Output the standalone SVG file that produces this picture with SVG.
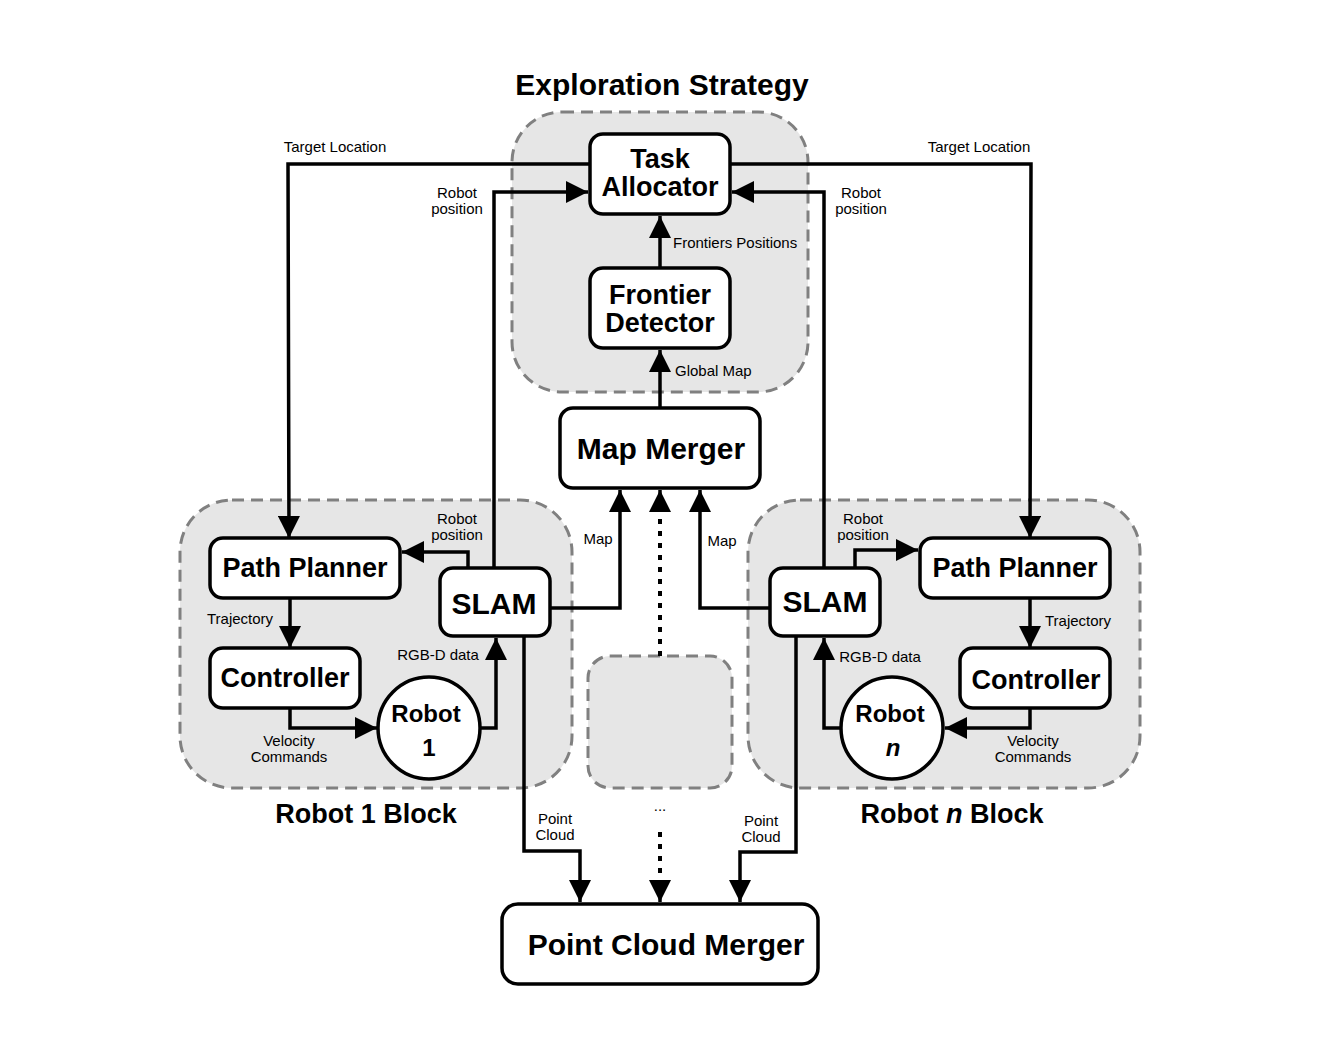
<svg xmlns="http://www.w3.org/2000/svg" width="1322" height="1037" viewBox="0 0 1322 1037">
<style>
.grp{fill:#e6e6e6;stroke:#808080;stroke-width:3;stroke-dasharray:12 7}
.node{fill:#fff;stroke:#000;stroke-width:3.5}
.t{font-family:"Liberation Sans",Arial,sans-serif;font-weight:bold;fill:#000;text-anchor:middle}
.lbl{font-family:"Liberation Sans",Arial,sans-serif;font-size:15px;fill:#000;text-anchor:middle}
.lbls{font-family:"Liberation Sans",Arial,sans-serif;font-size:15px;fill:#000;text-anchor:start}
.c{fill:none;stroke:#000;stroke-width:3.5}
.dot{fill:none;stroke:#000;stroke-width:4;stroke-dasharray:5 7}
</style>
<defs>
<marker id="ah" markerUnits="userSpaceOnUse" markerWidth="24" markerHeight="22" viewBox="0 0 24 22" refX="22" refY="11" orient="auto">
<path d="M0,0 L22,11 L0,22 Z" fill="#000"/>
</marker>
</defs>
<rect width="1322" height="1037" fill="#fff"/>
<g id="exploration-strategy">
<rect class="grp" x="512" y="112" width="296" height="280" rx="50"/>
<text class="t" x="662" y="95" font-size="30">Exploration Strategy</text>
</g>
<g id="robot1-block">
<rect class="grp" x="180" y="500" width="392" height="288" rx="52"/>
<text class="t" x="366" y="823" font-size="27">Robot 1 Block</text>
</g>
<g id="robotn-block">
<rect class="grp" x="748" y="500" width="392" height="288" rx="52"/>
<text class="t" x="952" y="823" font-size="27">Robot <tspan font-style="italic">n</tspan> Block</text>
</g>
<g id="middle-block">
<rect class="grp" x="588" y="656" width="144" height="132" rx="22"/>
</g>
<g id="connectors">
<polyline class="c" points="590,164 288,164 289,538" marker-end="url(#ah)"/>
<polyline class="c" points="730,164 1031,164 1030,538" marker-end="url(#ah)"/>
<polyline class="c" points="494,568 494,192 588,192" marker-end="url(#ah)"/>
<polyline class="c" points="824,568 824,192 732,192" marker-end="url(#ah)"/>
<line class="c" x1="660" y1="268" x2="660" y2="216" marker-end="url(#ah)"/>
<line class="c" x1="660" y1="408" x2="660" y2="350" marker-end="url(#ah)"/>
<polyline class="c" points="468,568 468,552 402,552" marker-end="url(#ah)"/>
<line class="c" x1="290" y1="598" x2="290" y2="648" marker-end="url(#ah)"/>
<polyline class="c" points="290,708 290,728 377,728" marker-end="url(#ah)"/>
<polyline class="c" points="480,728 496,728 496,638" marker-end="url(#ah)"/>
<polyline class="c" points="550,608 620,608 620,490" marker-end="url(#ah)"/>
<polyline class="c" points="770,608 700,608 700,490" marker-end="url(#ah)"/>
<line class="dot" x1="660" y1="656" x2="660" y2="512"/>
<line class="c" x1="660" y1="512" x2="660" y2="490" marker-end="url(#ah)"/>
<polyline class="c" points="524,636 524,851 580,851 580,902" marker-end="url(#ah)"/>
<polyline class="c" points="796,636 796,852 740,852 740,902" marker-end="url(#ah)"/>
<line class="dot" x1="660" y1="832" x2="660" y2="884"/>
<line class="c" x1="660" y1="880" x2="660" y2="902" marker-end="url(#ah)"/>
<polyline class="c" points="855,568 855,550 918,550" marker-end="url(#ah)"/>
<line class="c" x1="1030" y1="598" x2="1030" y2="648" marker-end="url(#ah)"/>
<polyline class="c" points="1030,708 1030,728 945,728" marker-end="url(#ah)"/>
<polyline class="c" points="841,728 824,728 824,638" marker-end="url(#ah)"/>
</g>
<g id="labels">
<text class="lbl" x="335" y="152">Target Location</text>
<text class="lbl" x="979" y="152">Target Location</text>
<text class="lbl" x="457" y="198">Robot</text>
<text class="lbl" x="457" y="214">position</text>
<text class="lbl" x="861" y="198">Robot</text>
<text class="lbl" x="861" y="214">position</text>
<text class="lbls" x="673" y="248">Frontiers Positions</text>
<text class="lbls" x="675" y="376">Global Map</text>
<text class="lbl" x="457" y="524">Robot</text>
<text class="lbl" x="457" y="540">position</text>
<text class="lbl" x="240" y="624">Trajectory</text>
<text class="lbl" x="438" y="660">RGB-D data</text>
<text class="lbl" x="289" y="746">Velocity</text>
<text class="lbl" x="289" y="762">Commands</text>
<text class="lbl" x="598" y="544">Map</text>
<text class="lbl" x="722" y="546">Map</text>
<text class="lbl" x="555" y="824">Point</text>
<text class="lbl" x="555" y="840">Cloud</text>
<text class="lbl" x="761" y="826">Point</text>
<text class="lbl" x="761" y="842">Cloud</text>
<text class="lbl" x="863" y="524">Robot</text>
<text class="lbl" x="863" y="540">position</text>
<text class="lbl" x="1078" y="626">Trajectory</text>
<text class="lbl" x="880" y="662">RGB-D data</text>
<text class="lbl" x="1033" y="746">Velocity</text>
<text class="lbl" x="1033" y="762">Commands</text>
<text class="lbl" x="660" y="811" font-size="25">...</text>
</g>
<g id="task-allocator">
<rect class="node" x="590" y="134" width="140" height="80" rx="13"/>
<text class="t" x="660" y="168" font-size="27">Task</text>
<text class="t" x="660" y="196" font-size="27">Allocator</text>
</g>
<g id="frontier-detector">
<rect class="node" x="590" y="268" width="140" height="80" rx="13"/>
<text class="t" x="660" y="304" font-size="27">Frontier</text>
<text class="t" x="660" y="332" font-size="27">Detector</text>
</g>
<g id="map-merger">
<rect class="node" x="560" y="408" width="200" height="80" rx="13"/>
<text class="t" x="661" y="459" font-size="30">Map Merger</text>
</g>
<g id="path-planner-1">
<rect class="node" x="210" y="538" width="190" height="60" rx="13"/>
<text class="t" x="305" y="577" font-size="27">Path Planner</text>
</g>
<g id="controller-1">
<rect class="node" x="210" y="648" width="150" height="60" rx="13"/>
<text class="t" x="285" y="687" font-size="27">Controller</text>
</g>
<g id="robot-1">
<circle class="node" cx="429" cy="728" r="51"/>
<text class="t" x="426" y="722" font-size="24">Robot</text>
<text class="t" x="429" y="756" font-size="24">1</text>
</g>
<g id="slam-1">
<rect class="node" x="440" y="568" width="110" height="68" rx="13"/>
<text class="t" x="494" y="614" font-size="30">SLAM</text>
</g>
<g id="slam-n">
<rect class="node" x="770" y="568" width="110" height="68" rx="13"/>
<text class="t" x="825" y="612" font-size="30">SLAM</text>
</g>
<g id="path-planner-n">
<rect class="node" x="920" y="538" width="190" height="60" rx="13"/>
<text class="t" x="1015" y="577" font-size="27">Path Planner</text>
</g>
<g id="controller-n">
<rect class="node" x="960" y="648" width="150" height="60" rx="13"/>
<text class="t" x="1036" y="689" font-size="27">Controller</text>
</g>
<g id="robot-n">
<circle class="node" cx="892" cy="728" r="51"/>
<text class="t" x="890" y="722" font-size="24">Robot</text>
<text class="t" x="893" y="756" font-size="24" font-style="italic">n</text>
</g>
<g id="point-cloud-merger">
<rect class="node" x="502" y="904" width="316" height="80" rx="16"/>
<text class="t" x="666" y="955" font-size="30">Point Cloud Merger</text>
</g>
</svg>
